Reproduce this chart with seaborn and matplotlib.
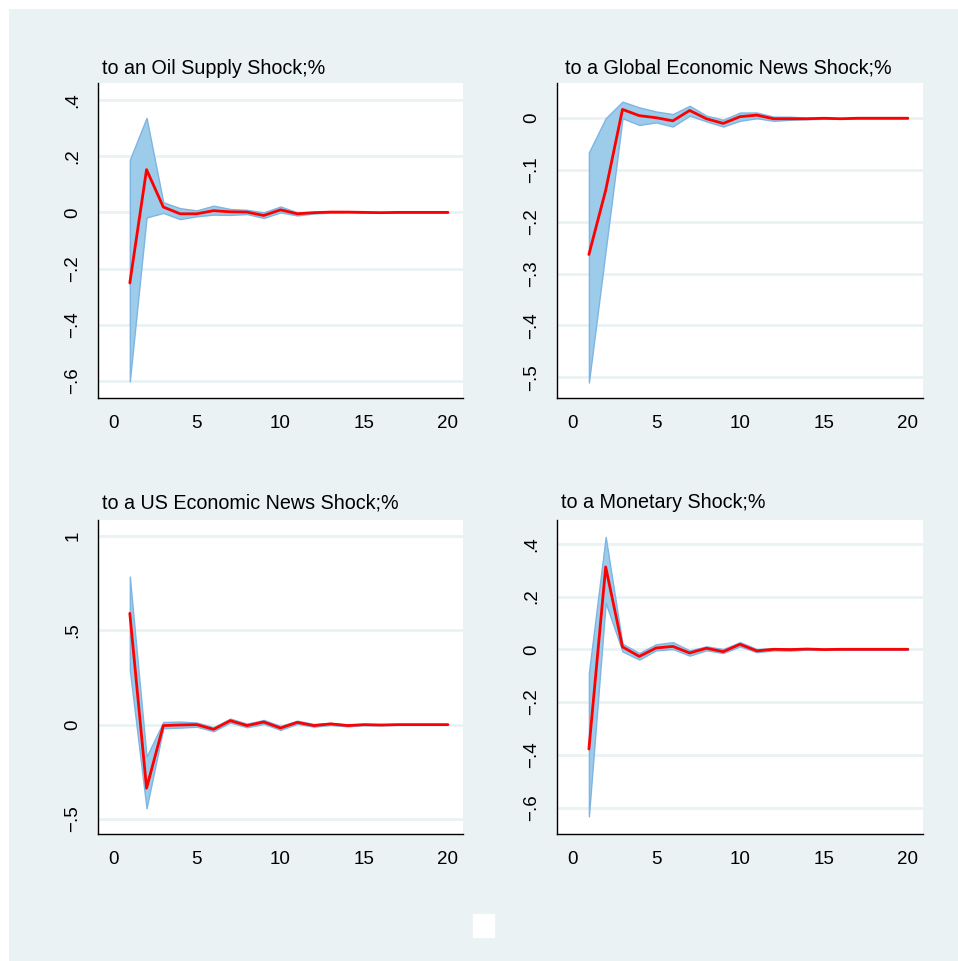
import numpy as np
import pandas as pd
import matplotlib
matplotlib.use('Agg')
import matplotlib.pyplot as plt
from matplotlib.patches import Rectangle
import seaborn as sns


STEPS = list(range(1, 21))

TITLES = ['to an Oil Supply Shock;%', 'to a Global Economic News Shock;%',
          'to a US Economic News Shock;%', 'to a Monetary Shock;%']

# impulse responses (red line) and confidence bands
OIL_IRF = [-0.251, 0.152, 0.019, -0.005, -0.005, 0.006, 0.002, 0.001, -0.011, 0.009,
           -0.005, -0.001, 0.001, 0.001, 0.0, -0.001, 0.0, 0.0, 0.0, 0.0]
OIL_UP = [0.187, 0.336, 0.036, 0.015, 0.007, 0.024, 0.012, 0.009, 0.0, 0.021,
          0.0, 0.002, 0.002, 0.002, 0.001, 0.0, 0.0, 0.0, 0.0, 0.0]
OIL_LO = [-0.601, -0.018, -0.002, -0.024, -0.014, -0.008, -0.009, -0.006, -0.020, 0.0,
          -0.011, -0.004, -0.001, 0.0, -0.001, -0.001, 0.0, 0.0, 0.0, 0.0]

GLOB_IRF = [-0.263, -0.139, 0.017, 0.005, 0.001, -0.005, 0.015, -0.001, -0.010, 0.003,
            0.006, -0.001, -0.001, -0.001, 0.0, -0.001, 0.0, 0.0, 0.0, 0.0]
GLOB_UP = [-0.066, 0.0, 0.032, 0.021, 0.013, 0.008, 0.024, 0.005, -0.003, 0.011,
           0.011, 0.003, 0.003, 0.001, 0.0, 0.0, 0.0, 0.0, 0.0, 0.0]
GLOB_LO = [-0.510, -0.255, 0.0, -0.013, -0.008, -0.016, 0.005, -0.006, -0.016, -0.005,
           0.0, -0.005, -0.003, -0.002, -0.001, -0.001, 0.0, 0.0, 0.0, 0.0]

US_IRF = [0.590, -0.337, -0.005, -0.002, 0.0, -0.025, 0.021, -0.005, 0.014, -0.018,
          0.012, -0.005, 0.004, -0.005, 0.0, -0.002, 0.0, 0.0, 0.0, 0.0]
US_UP = [0.785, -0.170, 0.014, 0.016, 0.011, -0.014, 0.032, 0.005, 0.025, -0.007,
         0.021, 0.003, 0.009, 0.001, 0.003, 0.001, 0.001, 0.0, 0.0, 0.0]
US_LO = [0.290, -0.444, -0.019, -0.016, -0.011, -0.035, 0.011, -0.014, 0.004, -0.028,
         0.004, -0.011, -0.002, -0.009, -0.003, -0.004, -0.001, -0.001, 0.0, 0.0]

MON_IRF = [-0.378, 0.312, 0.009, -0.027, 0.005, 0.011, -0.014, 0.004, -0.009, 0.019,
           -0.006, 0.0, -0.001, 0.001, -0.001, 0.0, 0.0, 0.0, 0.0, 0.0]
MON_UP = [-0.090, 0.426, 0.021, -0.014, 0.019, 0.027, -0.004, 0.011, 0.001, 0.027,
          0.001, 0.004, 0.003, 0.003, 0.001, 0.001, 0.0, 0.0, 0.0, 0.0]
MON_LO = [-0.633, 0.176, -0.008, -0.039, -0.004, 0.001, -0.024, -0.004, -0.014, 0.011,
          -0.011, -0.004, -0.005, -0.001, -0.002, -0.001, 0.0, 0.0, 0.0, 0.0]

X_TICKS = [0, 5, 10, 15, 20]
OIL_YTICKS = [-0.6, -0.4, -0.2, 0, 0.2, 0.4]
OIL_YLABELS = ['\u2212.6', '\u2212.4', '\u2212.2', '0', '.2', '.4']
GLOB_YTICKS = [-0.5, -0.4, -0.3, -0.2, -0.1, 0]
GLOB_YLABELS = ['\u2212.5', '\u2212.4', '\u2212.3', '\u2212.2', '\u2212.1', '0']
US_YTICKS = [-0.5, 0, 0.5, 1]
US_YLABELS = ['\u2212.5', '0', '.5', '1']
MON_YTICKS = [-0.6, -0.4, -0.2, 0, 0.2, 0.4]
MON_YLABELS = ['\u2212.6', '\u2212.4', '\u2212.2', '0', '.2', '.4']

BG = '#EAF2F3'
BAND = '#9DCBEA'
BAND_EDGE = '#7DB5E3'

sns.set_style('white')
plt.rcParams['font.family'] = ['Liberation Sans', 'DejaVu Sans']

W, H = 958, 961
fig = plt.figure(figsize=(W / 100, H / 100), dpi=100, facecolor='white')
fig.patches.append(Rectangle((9 / W, 0), 1, 1 - 9 / H, transform=fig.transFigure,
                             facecolor=BG, edgecolor='none', zorder=-10))

# panel boxes in pixels: left, top, right, bottom
boxes = [(98, 83, 463, 398), (557, 83, 923, 398),
         (98, 520, 463, 834), (557, 520, 923, 834)]
title_pos = [(102, 68), (565, 68), (102, 503), (561, 503)]
ylims = [(-0.66, 0.46), (-0.54, 0.068), (-0.58, 1.085), (-0.70, 0.49)]

panels = [
    (OIL_IRF, OIL_LO, OIL_UP, OIL_YTICKS, OIL_YLABELS),
    (GLOB_IRF, GLOB_LO, GLOB_UP, GLOB_YTICKS, GLOB_YLABELS),
    (US_IRF, US_LO, US_UP, US_YTICKS, US_YLABELS),
    (MON_IRF, MON_LO, MON_UP, MON_YTICKS, MON_YLABELS),
]

for i, (irf, lo, up, yt, yl) in enumerate(panels):
    l, t, r, b = boxes[i]
    ax = fig.add_axes([l / W, 1 - b / H, (r - l) / W, (b - t) / H])
    ax.set_facecolor('white')
    df = pd.DataFrame({'step': STEPS, 'irf': irf, 'lo': lo, 'up': up})

    ax.fill_between(df['step'], df['lo'], df['up'], facecolor=BAND,
                    edgecolor=BAND_EDGE, linewidth=1.0, zorder=2)
    sns.lineplot(data=df, x='step', y='irf', ax=ax, color='red',
                 linewidth=2.0, zorder=3)

    ax.set_xlim(-0.9, 20.9)
    ax.set_ylim(*ylims[i])
    ax.set_xticks(X_TICKS)
    ax.set_xticklabels([str(v) for v in X_TICKS])
    ax.set_yticks(yt)
    ax.set_yticklabels(yl, rotation=90, va='center')
    ax.set_xlabel('')
    ax.set_ylabel('')

    ax.grid(axis='y', color=BG, linewidth=2.0, zorder=1)
    ax.grid(axis='x', visible=False)
    ax.set_axisbelow(True)

    for side in ['top', 'right']:
        ax.spines[side].set_visible(False)
    for side in ['left', 'bottom']:
        ax.spines[side].set_color('black')
        ax.spines[side].set_linewidth(1.0)

    ax.tick_params(axis='both', which='major', direction='out', length=6.5,
                   width=1.0, color='black', labelsize=13.5, labelcolor='black')
    ax.tick_params(axis='y', pad=5.5)
    ax.tick_params(axis='x', pad=6)

    tx, ty = title_pos[i]
    fig.text(tx / W, 1 - ty / H, TITLES[i], fontsize=14.2, ha='left',
             va='center', color='black')

# empty legend box at the bottom
fig.patches.append(Rectangle((473 / W, 1 - 937 / H), 21 / W, 23 / H,
                             transform=fig.transFigure, facecolor='white',
                             edgecolor='white', linewidth=1.0, zorder=1))

plt.savefig('out.png', dpi=100)
plt.close()
